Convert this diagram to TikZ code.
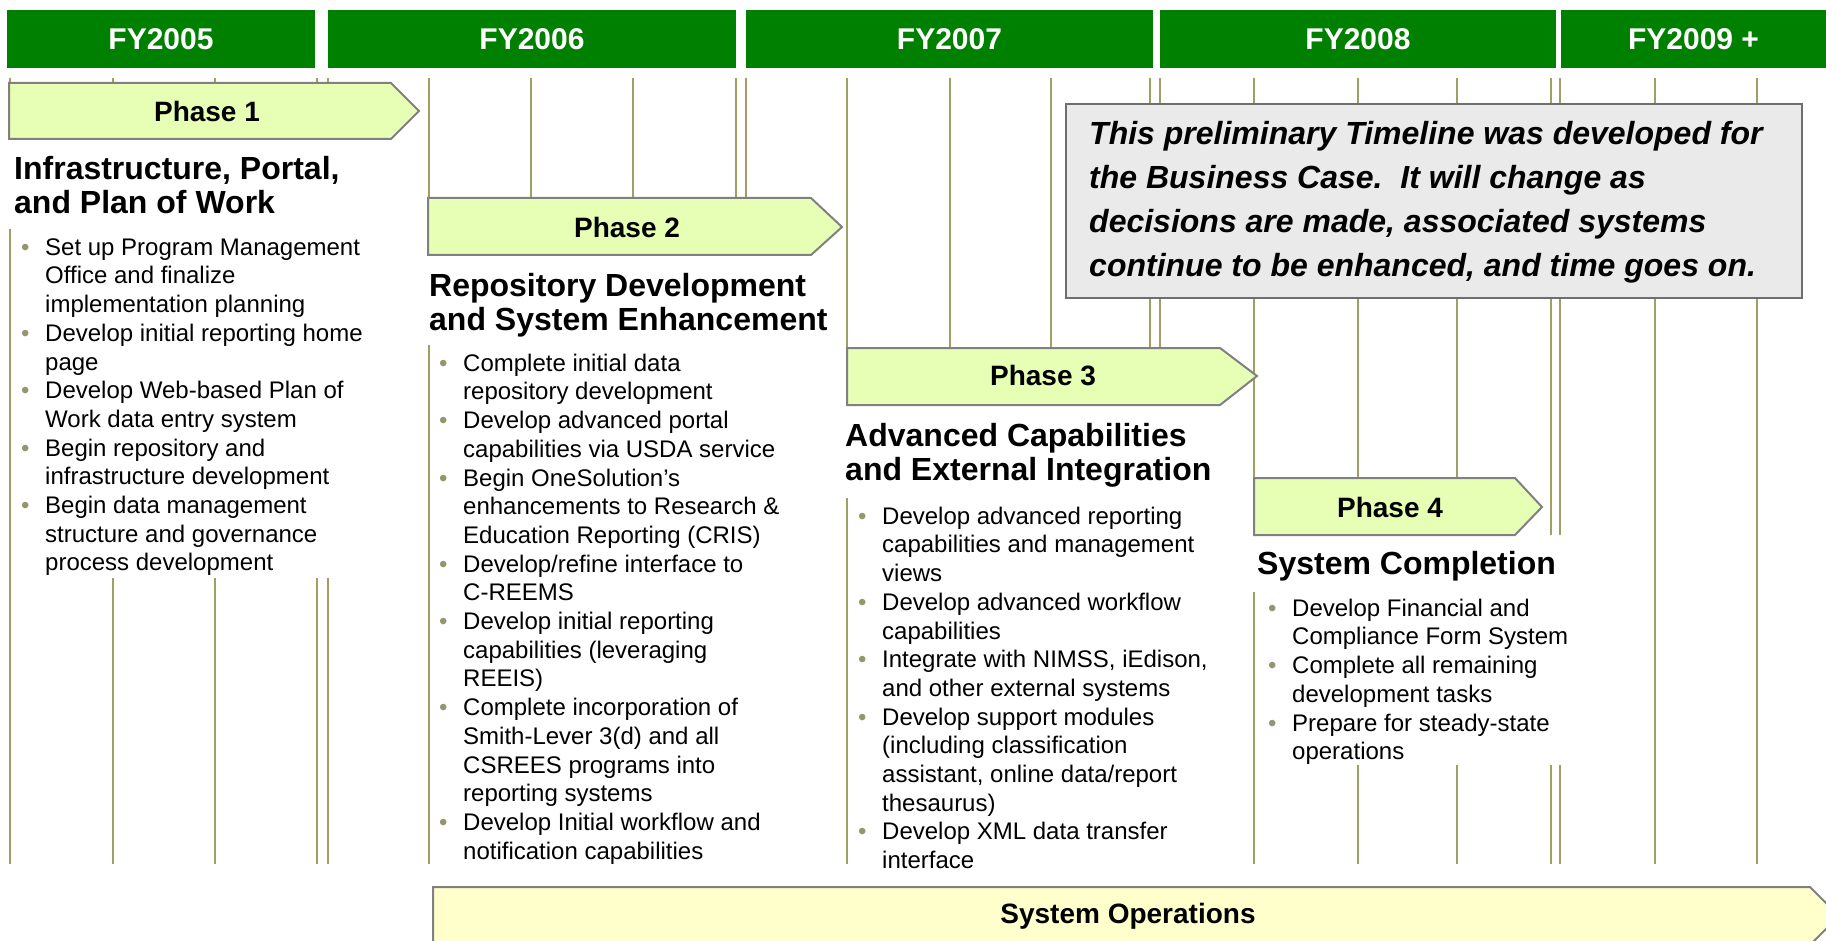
\documentclass[tikz,border=0pt]{standalone}
\usepackage{fontspec}
\setmainfont{Liberation Sans}
\definecolor{fygreen}{RGB}{0,128,0}
\definecolor{linecol}{RGB}{160,160,100}
\definecolor{phasefill}{RGB}{230,255,180}
\definecolor{opsfill}{RGB}{255,255,204}
\definecolor{edgegray}{RGB}{128,128,128}
\definecolor{notefill}{RGB}{234,234,234}
\definecolor{notegray}{RGB}{110,110,110}
\definecolor{dotcol}{RGB}{150,150,110}
\newcommand{\itemdot}{\makebox[24pt][l]{\textcolor{dotcol}{\textbullet}}}
\newcommand{\itemgap}{\hspace*{24pt}}
\begin{document}
\begin{tikzpicture}[x=1pt, y=-1pt,
    fybar/.style={fill=fygreen, text=white, inner sep=0, minimum height=58,
        font=\bfseries\fontsize{30}{36}\selectfont},
    qline/.style={draw=linecol, line width=1.3},
    mask/.style={fill=white},
    phasebox/.style={fill=phasefill, draw=edgegray, line width=2},
    opsbox/.style={fill=opsfill, draw=edgegray, line width=2},
    phaselabel/.style={font=\bfseries\fontsize{28}{34}\selectfont},
    headtext/.style={anchor=north west, inner sep=0, align=left,
        font=\bfseries\fontsize{32}{34}\selectfont},
    listtext/.style={anchor=north west, inner sep=0, align=left,
        font=\fontsize{24}{28.7}\selectfont}]
    \clip (0,0) rectangle (1826,941);

    % fiscal years
    \node[fybar, minimum width=308] (fy2005) at (161,39) {FY2005};
    \node[fybar, minimum width=408] (fy2006) at (532,39) {FY2006};
    \node[fybar, minimum width=407] (fy2007) at (949.5,39) {FY2007};
    \node[fybar, minimum width=396] (fy2008) at (1358,39) {FY2008};
    \node[fybar, minimum width=265] (fy2009) at (1693.5,39) {FY2009 +};

    % quarter lines
    \draw[qline] (10,78) -- (10,864);
    \draw[qline] (113,78) -- (113,864);
    \draw[qline] (215,78) -- (215,864);
    \draw[qline] (317,78) -- (317,864);
    \draw[qline] (328,78) -- (328,864);
    \draw[qline] (429,78) -- (429,864);
    \draw[qline] (531,78) -- (531,864);
    \draw[qline] (633,78) -- (633,864);
    \draw[qline] (736,78) -- (736,864);
    \draw[qline] (746,78) -- (746,864);
    \draw[qline] (847,78) -- (847,864);
    \draw[qline] (950,78) -- (950,864);
    \draw[qline] (1051,78) -- (1051,864);
    \draw[qline] (1150,78) -- (1150,864);
    \draw[qline] (1160,78) -- (1160,864);
    \draw[qline] (1254,78) -- (1254,864);
    \draw[qline] (1358,78) -- (1358,864);
    \draw[qline] (1457,78) -- (1457,864);
    \draw[qline] (1551,78) -- (1551,864);
    \draw[qline] (1560,78) -- (1560,864);
    \draw[qline] (1655,78) -- (1655,864);
    \draw[qline] (1757,78) -- (1757,864);

    % white behind the texts
    \fill[mask] (0,139) rectangle (400,229);
    \fill[mask] (12,229) rectangle (365,578);
    \fill[mask] (420,255) rectangle (835,345);
    \fill[mask] (431,345) rectangle (830,866);
    \fill[mask] (840,405) rectangle (1240,498);
    \fill[mask] (850,498) rectangle (1240,866);
    \fill[mask] (1245,535) rectangle (1600,592);
    \fill[mask] (1256,592) rectangle (1600,765);

    % Phase 1
    \draw[phasebox] (9,83) -- (391,83) -- (419,111) -- (391,139) -- (9,139) -- cycle;
    \node[phaselabel] (ph1) at (207,111) {Phase 1};
    \node[headtext] (head1) at (14,155.2) {\strut Infrastructure, Portal,\\and Plan of Work};
    \node[listtext] (list1) at (21,235) {\strut\itemdot Set up Program Management\\
        \itemgap Office and finalize\\
        \itemgap implementation planning\\
        \itemdot Develop initial reporting home\\
        \itemgap page\\
        \itemdot Develop Web-based Plan of\\
        \itemgap Work data entry system\\
        \itemdot Begin repository and\\
        \itemgap infrastructure development\\
        \itemdot Begin data management\\
        \itemgap structure and governance\\
        \itemgap process development};

    % Phase 2
    \draw[phasebox] (428,198) -- (811,198) -- (842,227) -- (811,255) -- (428,255) -- cycle;
    \node[phaselabel] (ph2) at (627,227) {Phase 2};
    \node[headtext] (head2) at (429,272.2) {\strut Repository Development\\and System Enhancement};
    \node[listtext] (list2) at (439,351) {\strut\itemdot Complete initial data\\
        \itemgap repository development\\
        \itemdot Develop advanced portal\\
        \itemgap capabilities via USDA service\\
        \itemdot Begin OneSolution’s\\
        \itemgap enhancements to Research \&\\
        \itemgap Education Reporting (CRIS)\\
        \itemdot Develop/refine interface to\\
        \itemgap C-REEMS\\
        \itemdot Develop initial reporting\\
        \itemgap capabilities (leveraging\\
        \itemgap REEIS)\\
        \itemdot Complete incorporation of\\
        \itemgap Smith-Lever 3(d) and all\\
        \itemgap CSREES programs into\\
        \itemgap reporting systems\\
        \itemdot Develop Initial workflow and\\
        \itemgap notification capabilities};

    % Phase 3
    \draw[phasebox] (847,348) -- (1220,348) -- (1257,376) -- (1220,405) -- (847,405) -- cycle;
    \node[phaselabel] (ph3) at (1043,376) {Phase 3};
    \node[headtext] (head3) at (845,422.2) {\strut Advanced Capabilities\\and External Integration};
    \node[listtext] (list3) at (858,504) {\strut\itemdot Develop advanced reporting\\
        \itemgap capabilities and management\\
        \itemgap views\\
        \itemdot Develop advanced workflow\\
        \itemgap capabilities\\
        \itemdot Integrate with NIMSS, iEdison,\\
        \itemgap and other external systems\\
        \itemdot Develop support modules\\
        \itemgap (including classification\\
        \itemgap assistant, online data/report\\
        \itemgap thesaurus)\\
        \itemdot Develop XML data transfer\\
        \itemgap interface};

    % Phase 4
    \draw[phasebox] (1254,478) -- (1515,478) -- (1542,507) -- (1515,535) -- (1254,535) -- cycle;
    \node[phaselabel] (ph4) at (1390,507) {Phase 4};
    \node[headtext] (head4) at (1257,550.2) {\strut System Completion};
    \node[listtext] (list4) at (1268,596) {\strut\itemdot Develop Financial and\\
        \itemgap Compliance Form System\\
        \itemdot Complete all remaining\\
        \itemgap development tasks\\
        \itemdot Prepare for steady-state\\
        \itemgap operations};

    % note
    \draw[fill=notefill, draw=notegray, line width=2.5] (1066,104) rectangle (1802,298);
    \node[anchor=north west, inner sep=0, align=left,
        font=\bfseries\itshape\fontsize{32}{44}\selectfont] (note) at (1089,113.2)
        {\strut This preliminary Timeline was developed for\\
        the Business Case.\ \ It will change as\\
        decisions are made, associated systems\\
        continue to be enhanced, and time goes on.};

    % operations
    \draw[opsbox] (433,887) -- (1810,887) -- (1839,916) -- (1810,945) -- (433,945) -- cycle;
    \node[phaselabel] (ops) at (1128,916) {System Operations};
\end{tikzpicture}
\end{document}
